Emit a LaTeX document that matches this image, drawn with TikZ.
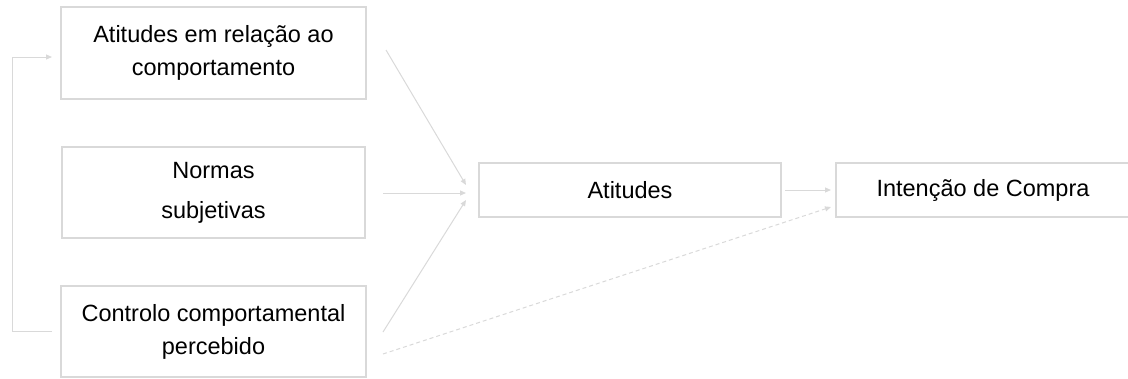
\documentclass[tikz,border=0pt]{standalone}
\usepackage{fontspec}
\setmainfont{Liberation Sans}
\usetikzlibrary{arrows.meta,calc}
\definecolor{lg}{HTML}{D9D9D9}
\tikzset{
  box/.style={draw=lg,line width=2pt,rectangle,inner sep=0pt,align=center,
    font=\fontsize{23.5}{33}\selectfont,text=black},
  conn/.style={draw=lg,line width=1pt,-{Triangle[length=6pt,width=5pt]}},
  dashconn/.style={conn,dash pattern=on 4pt off 3pt}
}
\begin{document}
\begin{tikzpicture}[x=1pt,y=-1pt]
\useasboundingbox (0,0) rectangle (1128,378);
\node[box,minimum width=305pt,minimum height=92pt] (b1) at (213.5,53) {Atitudes em relação ao\\comportamento};
\node[box,minimum width=303pt,minimum height=91pt] (b2) at (213.5,192.5) {Normas\\[7pt]subjetivas};
\node[box,minimum width=305pt,minimum height=91pt] (b3) at (213.5,331.5) {Controlo comportamental\\percebido};
\node[box,minimum width=302pt,minimum height=54pt] (att) at (630,190) {Atitudes};
\node[box,minimum width=294pt,minimum height=54pt] (int) at (983,190) {Intenção de Compra};
\draw[conn] ($(b1.east)+(19,-3)$) -- ($(att.west)+(-12,-5)$);
\draw[conn] ($(b2.east)+(17,0.5)$) -- ($(att.west)+(-12,3)$);
\draw[conn] ($(b3.east)+(16,0.5)$) -- ($(att.west)+(-12,10)$);
\draw[dashconn] ($(b3.east)+(16,22.5)$) -- ($(int.west)+(-4,17)$);
\draw[conn] ($(att.east)+(3,0)$) -- ($(int.west)+(-4,0)$);
\draw[conn] ($(b3.west)+(-8,0)$) -| (12,57) -- ($(b1.west)+(-8,4)$);
\end{tikzpicture}
\end{document}
